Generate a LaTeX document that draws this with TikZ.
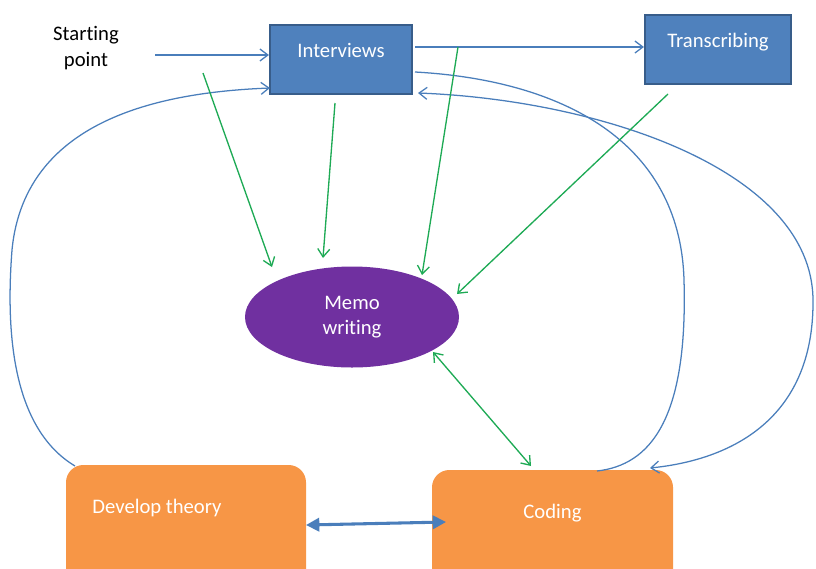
\documentclass[tikz,border=0pt]{standalone}
\usepackage{fontspec}
\setmainfont[Ligatures=NoCommon]{Carlito}
\usetikzlibrary{arrows.meta,shapes.geometric}
\definecolor{boxblue}{HTML}{4F81BD}
\definecolor{boxedge}{HTML}{385D8A}
\definecolor{lineblue}{HTML}{4A7EBB}
\definecolor{grn}{HTML}{1EAA55}
\definecolor{org}{HTML}{F79646}
\definecolor{purp}{HTML}{7030A0}
\tikzset{
  bluebox/.style={draw=boxedge, fill=boxblue, line width=1.6pt, text=white, align=center, font=\fontsize{15.5}{19}\selectfont},
  orgbox/.style={fill=org, rounded corners=13pt, draw=none},
  bluearrow/.style={draw=lineblue, line width=0.95pt, -{Straight Barb[length=6pt,width=9pt]}},
  blueline/.style={draw=lineblue, line width=0.95pt},
  greenarrow/.style={draw=grn, line width=1pt, -{Straight Barb[length=6pt,width=9pt]}},
  lbl/.style={text=white, font=\fontsize{15.5}{19}\selectfont}
}
\begin{document}
\begin{tikzpicture}[x=0.75pt,y=-0.75pt]
\useasboundingbox (0,0) rectangle (816,568);
\clip (0,0) rectangle (816,568);
% nodes
\node[font=\fontsize{15.5}{19}\selectfont, align=center] (sp) at (86,48) {Starting\\point};
\node[bluebox, minimum width=106.5pt, minimum height=51.75pt] (int) at (341,59.5) {Interviews\\[-5.5pt]\mbox{}};
\node[bluebox, minimum width=109.5pt, minimum height=51.75pt] (tra) at (718,49.5) {Transcribing\\[-5.5pt]\mbox{}};
\node[ellipse, fill=purp, minimum width=160.5pt, minimum height=75.75pt, text=white, align=center, font=\fontsize{15.5}{19}\selectfont] (memo) at (352,317) {Memo\\writing};
\node[orgbox, minimum width=180pt, minimum height=105pt, label={[lbl, xshift=-21.75pt, yshift=20.25pt]center:Develop theory}] (dev) at (186,535) {};
\node[orgbox, minimum width=180.75pt, minimum height=105pt, label={[lbl, yshift=20.25pt]center:Coding}] (cod) at (552.5,540) {};
% coordinates
\coordinate (spA) at (155,55);
\coordinate (g1s) at (203,73);
\coordinate (g1e) at (272,267);
\coordinate (g2s) at (335,103);
\coordinate (g2e) at (323,258);
\coordinate (g3s) at (458,47);
\coordinate (g3e) at (422,275);
\coordinate (g4s) at (668,94);
\coordinate (g4e) at (457,294);
\coordinate (g5s) at (433,352);
\coordinate (g5e) at (531,466);
\coordinate (itr) at (415,47);
\coordinate (ir1) at (415,72);
\coordinate (ir2) at (418,93);
\coordinate (il2) at (270,88);
\coordinate (devtl) at (75,466);
\coordinate (codt1) at (597,471);
\coordinate (codt2) at (650,468);
\coordinate (dar1) at (306,525);
\coordinate (dar2) at (446,522);
% blue connectors
\draw[bluearrow] (spA) -- (int.west |- spA);
\draw[bluearrow] (itr) -- (tra.west |- itr);
\draw[bluearrow] (devtl) .. controls (15,430) and (5,340) .. (12,250) .. controls (25,115) and (170,92) .. (il2);
\draw[blueline] (ir1) .. controls (560,80) and (680,140) .. (684,280) .. controls (688,420) and (650,465) .. (codt1);
\draw[bluearrow, {Straight Barb[length=6pt,width=9pt]}-{Straight Barb[length=6pt,width=9pt]}] (ir2) .. controls (600,100) and (812,170) .. (813,300) .. controls (814,420) and (730,460) .. (codt2);
% thick double arrow
\draw[draw=lineblue, line width=2.3pt, {Triangle[length=10pt,width=10pt]}-{Triangle[length=10pt,width=10pt]}] (dar1) -- (dar2);
% green arrows
\draw[greenarrow] (g1s) -- (g1e);
\draw[greenarrow] (g2s) -- (g2e);
\draw[greenarrow] (g3s) -- (g3e);
\draw[greenarrow] (g4s) -- (g4e);
\draw[greenarrow, {Straight Barb[length=6pt,width=9pt]}-{Straight Barb[length=6pt,width=9pt]}] (g5s) -- (g5e);
\end{tikzpicture}
\end{document}
